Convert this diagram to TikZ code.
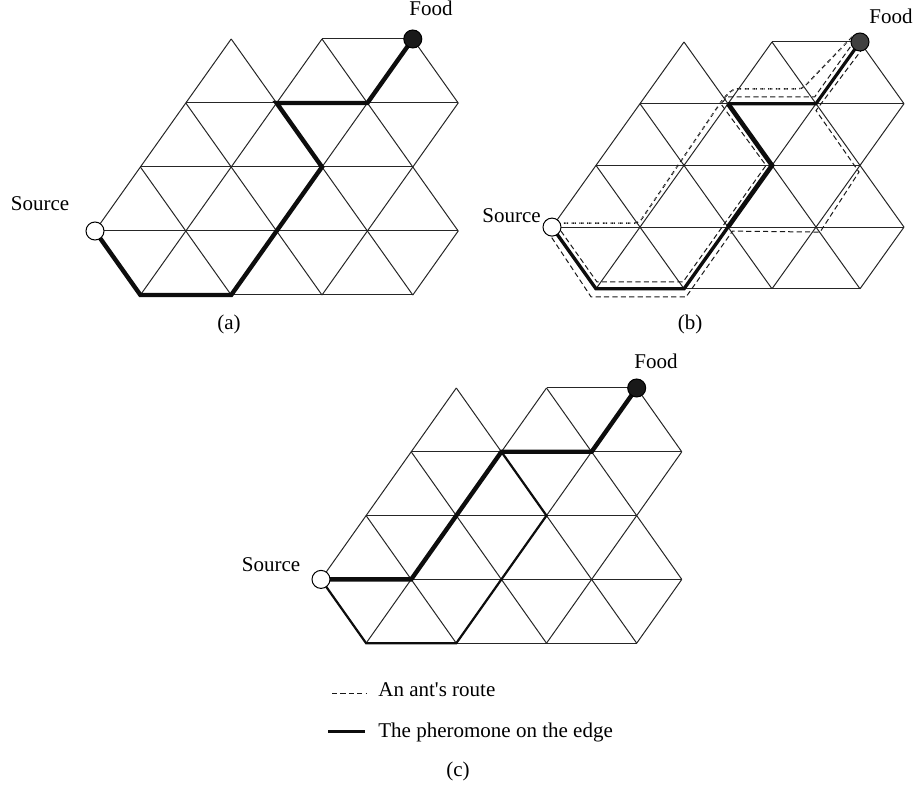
\documentclass[tikz,border=0pt]{standalone}
\usepackage{fontspec}
\setmainfont{Liberation Serif}[Ligatures=TeXOff]
\usetikzlibrary{positioning}

% triangular lattice: vertices (i,j), i = half edge, j = row
\newcommand{\trigrid}{%
  \foreach \i/\j in {3/0,5/0,7/0,2/1,4/1,6/1,8/1,1/2,3/2,5/2,7/2,0/3,2/3,4/3,6/3,8/3,1/4,3/4,5/4,7/4}
    \coordinate (v-\i-\j) at (\i,\j);
  \foreach \p/\q in {5-0/7-0,2-1/8-1,1-2/7-2,0-3/8-3,1-4/7-4,
                     0-3/3-0,1-4/5-0,3-4/7-0,5-4/8-1,7-4/8-3,
                     0-3/1-4,1-2/3-4,2-1/5-4,3-0/7-4,5-0/8-3,7-0/8-1}
    \draw[gridline] (v-\p) -- (v-\q);
}

\begin{document}
\begin{tikzpicture}[x=0.5pt, y=-0.5pt,
  gridline/.style={black!85, line width=0.5pt},
  pheromone/.style={black!95, line width=2.2pt},
  weakpheromone/.style={black!95, line width=1.1pt},
  antroute/.style={black!90, line width=0.5pt, dash pattern=on 2.6pt off 1.6pt},
  antroutedense/.style={black!90, line width=0.75pt, dash pattern=on 0.5pt off 0.3pt on 0.5pt off 0.3pt on 0.5pt off 1.8pt},
  source/.style={circle, draw, fill=white, line width=0.5pt, minimum size=9pt, inner sep=0pt},
  food/.style={circle, draw, fill=#1, line width=0.5pt, minimum size=9pt, inner sep=0pt},
  txt/.style={font=\fontsize{10.5}{12}\selectfont, inner sep=0pt, anchor=base}
]
  \useasboundingbox (0,0) rectangle (917,786);

  % (a) shortest path
  \begin{scope}[shift={(95,39)}, x=22.7pt, y=-32pt, name prefix=a-]
    \trigrid
    \draw[pheromone] (v-0-3) -- (v-1-4) -- (v-3-4) -- (v-4-3) -- (v-5-2) -- (v-4-1) -- (v-6-1) -- (v-7-0);
    \node[source] (src) at (v-0-3) {};
    \node[food=black!90] (food) at (v-7-0) {};
  \end{scope}
  \node[txt] (srca) at (40,211) {Source};
  \node[txt] (fooda) at (431,16) {Food};
  \node[txt] (capa) at (229,330) {(a)};

  % (b) ant routes
  \begin{scope}[shift={(552,42)}, x=22pt, y=-30.85pt, name prefix=b-]
    \trigrid
    \draw[pheromone, line width=1.7pt] (v-0-3) -- (v-1-4) -- (v-3-4) -- (v-4-3);
    \draw[pheromone, line width=2.3pt] (v-4-3) -- (v-5-2) -- (v-4-1);
    \draw[pheromone, line width=1.6pt] (v-4-1) -- (v-6-1) -- (v-7-0);
    % routes
    \draw[antroute] ([shift={(-2.45pt,-1.75pt)}]v-0-3) -- ([shift={(-2.5pt,-4pt)}]v-1-4)
      -- ([shift={(1pt,-4.1pt)}]v-3-4) -- ([shift={(2.25pt,-2pt)}]v-4-3)
      -- ([shift={(2pt,-2.5pt)}]v-6-3) -- ([shift={(-0.5pt,-3.3pt)}]v-7-2)
      -- ([shift={(0pt,-3.4pt)}]v-6-1) -- ([shift={(2.45pt,-1.75pt)}]v-7-0);
    \draw[antroute] ([shift={(2.05pt,1.45pt)}]v-0-3) -- ([shift={(0.5pt,3.4pt)}]v-1-4)
      -- ([shift={(-0.5pt,3.4pt)}]v-3-4) -- ([shift={(-3pt,0pt)}]v-5-2)
      -- ([shift={(-3.5pt,-0.15pt)}]v-4-1) -- ([shift={(-0.5pt,3.35pt)}]v-4-1)
      -- ([shift={(-0.7pt,3.35pt)}]v-6-1) -- ([shift={(-2.05pt,1.45pt)}]v-7-0);
    \draw[antroutedense, rounded corners=2pt] ([shift={(2pt,2pt)}]v-0-3) -- ([shift={(-0.5pt,2.05pt)}]v-2-3)
      -- ([shift={(-2.5pt,2.35pt)}]v-4-1) -- ([shift={(2.5pt,7.35pt)}]v-4-1)
      -- ([shift={(-7pt,7.35pt)}]v-6-1) -- ([shift={(-4pt,2.5pt)}]v-7-0);
    \node[source] (src) at (v-0-3) {};
    \node[food=black!75] (food) at (v-7-0) {};
  \end{scope}
  \node[txt] (srcb) at (511.5,223) {Source};
  \node[txt] (foodb) at (891,24) {Food};
  \node[txt] (capb) at (690,330) {(b)};

  % (c) updated pheromone
  \begin{scope}[shift={(321,388)}, x=22.55pt, y=-31.9pt, name prefix=c-]
    \trigrid
    \draw[weakpheromone] (v-0-3) -- (v-1-4) -- (v-3-4) -- (v-5-2) -- (v-4-1);
    \draw[pheromone] (v-0-3) -- (v-2-3) -- (v-4-1) -- (v-6-1) -- (v-7-0);
    \node[source] (src) at (v-0-3) {};
    \node[food=black!90] (food) at (v-7-0) {};
  \end{scope}
  \node[txt] (srcc) at (271,572) {Source};
  \node[txt] (foodc) at (656,369) {Food};

  % legend
  \node[txt, anchor=base west] (routetxt) at (378,697) {An ant's route};
  \node[txt, anchor=base west] (pheromonetxt) at (378,737) {The pheromone on the edge};
  \draw[antroute] ([xshift=-23pt,yshift=-1.5pt]routetxt.west) -- ([xshift=-5.5pt,yshift=-1.5pt]routetxt.west);
  \draw[pheromone, line width=1.5pt] ([xshift=-25pt]pheromonetxt.west) -- ([xshift=-6.5pt]pheromonetxt.west);
  \node[txt] (capc) at (458,776) {(c)};
\end{tikzpicture}
\end{document}
